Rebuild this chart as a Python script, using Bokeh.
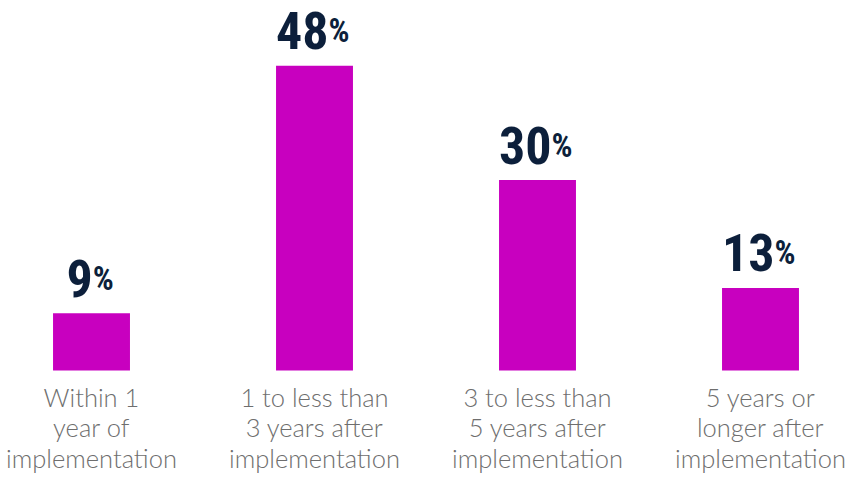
from bokeh.plotting import figure
from bokeh.models import ColumnDataSource, Range1d
from bokeh.core.properties import value
from bokeh.embed import file_html
from bokeh.resources import INLINE

categories = ["Within 1\nyear of\nimplementation",
              "1 to less than\n3 years after\nimplementation",
              "3 to less than\n5 years after\nimplementation",
              "5 years or\nlonger after\nimplementation"]
percentages = [9, 48, 30, 13]

xs = list(range(len(categories)))
num_labels = [str(v) for v in percentages]
digit_w = 25.5
pct_w = 23
offsets = [(digit_w * len(s) - pct_w) / 2 for s in num_labels]

src = ColumnDataSource(dict(x=xs, top=percentages, cat=categories,
                            num=num_labels, pct=["%"] * len(xs), off=offsets))

p = figure(width=850, height=477, output_backend="svg", toolbar_location=None,
           x_range=Range1d(-0.4081, 3.4036), y_range=Range1d(-16.85, 58.27),
           min_border=0, outline_line_color=None, background_fill_color="white",
           border_fill_color="white")
p.axis.visible = False
p.grid.visible = False

p.vbar(x="x", top="top", bottom=0, width=0.345, source=src,
       fill_color="#c800bf", line_color=None)

num_font = value("Roboto Condensed, Roboto")
p.text(x="x", y="top", text="num", source=src, x_offset="off", y_offset=-35,
       text_align="right", text_baseline="alphabetic",
       text_font=num_font, text_font_style="bold",
       text_font_size="52px", text_color="#0c1f3b")
p.text(x="x", y="top", text="pct", source=src, x_offset="off", y_offset=-35,
       text_align="left", text_baseline="alphabetic",
       text_font=num_font, text_font_style="bold",
       text_font_size="33px", text_color="#0c1f3b")

p.text(x="x", y=0, text="cat", source=src, y_offset=11,
       text_align="center", text_baseline="top",
       text_font=value("Lato Light"), text_font_size="25.5px",
       text_line_height=1.03, text_color="#6e6e6e")

open("out.html", "w").write(file_html(p, INLINE))
